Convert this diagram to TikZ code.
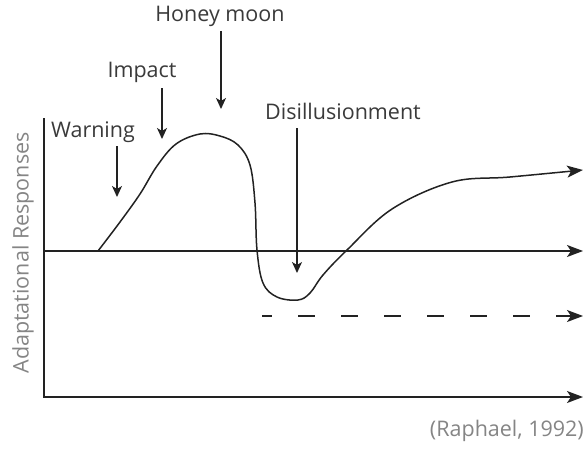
\documentclass[tikz,border=0pt]{standalone}
\usepackage{fontspec}
\setmainfont{Open Sans}
\usetikzlibrary{arrows.meta}
\definecolor{ink}{HTML}{222222}
\definecolor{lbl}{HTML}{3A3A3A}
\definecolor{soft}{HTML}{858585}
\begin{document}
\begin{tikzpicture}[x=1pt,y=-1pt,
  axis/.style={draw=ink,line width=1.3pt},
  bigtip/.style={-{Stealth[length=16pt,width=12pt,inset=4pt]}},
  smalltip/.style={-{Stealth[length=11pt,width=10pt,inset=3pt]}},
  lab/.style={text=lbl,font=\fontsize{21.5}{24}\selectfont,inner sep=0pt,anchor=base},
  softlab/.style={text=soft,font=\fontsize{21.5}{24}\selectfont,inner sep=0pt}]
\useasboundingbox (0,0) rectangle (588,452);
% axes
\coordinate (ytop) at (44,118);
\coordinate (orig) at (44,397);
\coordinate (xend) at (583,397);
\coordinate (mid0) at (44,251);
\coordinate (mid1) at (583,251);
\coordinate (d0) at (262,316);
\coordinate (d1) at (583,316);
\draw[axis,bigtip] (ytop) -- (orig) -- (xend);
\draw[axis,bigtip] (mid0) -- (mid1);
\draw[axis,bigtip,dash pattern=on 17pt off 26pt,dash phase=7pt] (d0) -- (d1);
% curve
\draw[axis,line width=1.5pt,bigtip] plot[smooth,tension=0.6] coordinates {
 (98,251) (120,222) (140,194) (157,166) (176,144) (200,134) (220,136)
 (238,145) (250,165) (255,203) (257,250) (263,283) (277,297)
 (298,300) (310,293) (323,275) (347,250) (392,209) (452,182) (510,177) (583,170)};
% labels
\node[lab] (warn) at (93,137) {Warning};
\node[lab] (imp) at (142,77) {Impact};
\node[lab] (honey) at (220,22) {Honey moon};
\node[lab] (dis) at (343,119) {Disillusionment};
\node[softlab,rotate=90] (ylab) at (23,253) {Adaptational Responses};
\node[softlab,anchor=base east] (src) at (584,436) {(Raphael, 1992)};
% stage arrows
\coordinate (w0) at (117,146); \coordinate (w1) at (117,197);
\coordinate (i0) at (162,88);  \coordinate (i1) at (162,139);
\coordinate (h0) at (221,31);  \coordinate (h1) at (221,109);
\coordinate (s0) at (297,128); \coordinate (s1) at (297,273);
\draw[axis,line width=1.5pt,smalltip] (w0) -- (w1);
\draw[axis,line width=1.5pt,smalltip] (i0) -- (i1);
\draw[axis,line width=1.5pt,smalltip] (h0) -- (h1);
\draw[axis,line width=1.5pt,smalltip] (s0) -- (s1);
\end{tikzpicture}
\end{document}
